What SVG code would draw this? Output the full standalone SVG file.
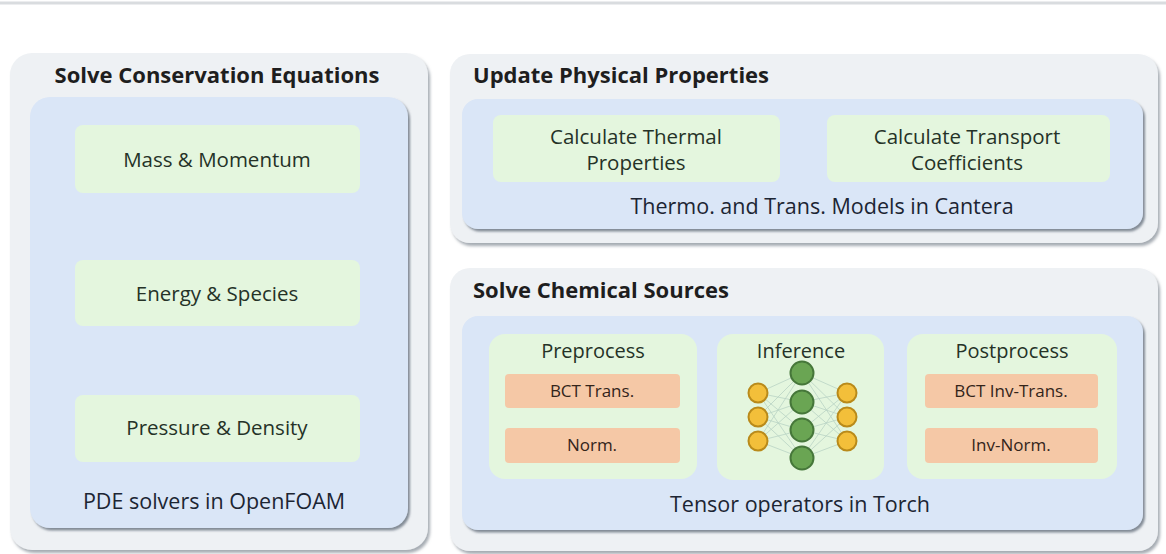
<svg xmlns="http://www.w3.org/2000/svg" width="1166" height="554" viewBox="0 0 1166 554">
<defs>
<filter id="sh" x="-5%" y="-5%" width="110%" height="115%">
<feDropShadow dx="2" dy="3" stdDeviation="1.5" flood-color="#6b7480" flood-opacity="0.6"/>
</filter>
<filter id="sh2" x="-5%" y="-5%" width="110%" height="115%">
<feDropShadow dx="2" dy="2.5" stdDeviation="1.2" flood-color="#55606e" flood-opacity="0.7"/>
</filter>
</defs>
<style>
.outer{fill:#eef1f4;filter:url(#sh)}
.inner{fill:#dae6f7;filter:url(#sh2)}
.green{fill:#e4f6de}
.orange{fill:#f5c8a6}
.title{font-family:"Open Sans",sans-serif;font-weight:bold;font-size:22px;fill:#1e1e1e}
.lbl{font-family:"Open Sans",sans-serif;font-size:20.5px;fill:#253227;text-anchor:middle}
.foot{font-family:"Open Sans",sans-serif;font-size:21.5px;fill:#1c2533;text-anchor:middle}
.sub{font-family:"Open Sans",sans-serif;font-size:20px;fill:#253227;text-anchor:middle}
.olbl{font-family:"Open Sans",sans-serif;font-size:17px;fill:#33241a;text-anchor:middle}
.yc{fill:#f3bf3a;stroke:#b98a1a;stroke-width:2}
.gc{fill:#6aa553;stroke:#46773a;stroke-width:2}
.edge{stroke:#b9d3c4;stroke-width:0.8;fill:none}
</style>
<rect x="0" y="0" width="1166" height="554" fill="#ffffff"/>
<line x1="0" y1="3" x2="1166" y2="3" stroke="#d9dcdf" stroke-width="3"/>

<g id="conservation">
<rect class="outer" x="10" y="53" width="418" height="497" rx="22"/>
<text class="title" x="217" y="83" text-anchor="middle">Solve Conservation Equations</text>
<rect class="inner" x="30" y="97" width="378" height="431" rx="20"/>
<g id="mass"><rect class="green" x="75" y="125" width="285" height="68" rx="8"/>
<text class="lbl" x="217" y="167">Mass &amp; Momentum</text></g>
<g id="energy"><rect class="green" x="75" y="260" width="285" height="66" rx="8"/>
<text class="lbl" x="217" y="301">Energy &amp; Species</text></g>
<g id="pressure"><rect class="green" x="75" y="395" width="285" height="67" rx="8"/>
<text class="lbl" x="217" y="435">Pressure &amp; Density</text></g>
<text class="foot" x="214" y="509">PDE solvers in OpenFOAM</text>
</g>

<g id="physical">
<rect class="outer" x="450" y="54" width="708" height="189" rx="20"/>
<text class="title" x="473" y="83">Update Physical Properties</text>
<rect class="inner" x="462" y="99" width="681" height="130" rx="16"/>
<g id="thermal"><rect class="green" x="493" y="115" width="287" height="67" rx="8"/>
<text class="lbl" x="636" y="144">Calculate Thermal</text>
<text class="lbl" x="636" y="170">Properties</text></g>
<g id="transport"><rect class="green" x="827" y="115" width="283" height="67" rx="8"/>
<text class="lbl" x="967" y="144">Calculate Transport</text>
<text class="lbl" x="967" y="170">Coefficients</text></g>
<text class="foot" x="822" y="214">Thermo. and Trans. Models in Cantera</text>
</g>

<g id="chemical">
<rect class="outer" x="450" y="268" width="708" height="283" rx="20"/>
<text class="title" x="473" y="298">Solve Chemical Sources</text>
<rect class="inner" x="462" y="316" width="681" height="214" rx="16"/>
<g id="preprocess"><rect class="green" x="489" y="334" width="208" height="145" rx="16"/>
<text class="sub" x="593" y="358">Preprocess</text>
<g id="bct"><rect class="orange" x="505" y="374" width="175" height="34" rx="4"/>
<text class="olbl" x="592" y="397">BCT Trans.</text></g>
<g id="norm"><rect class="orange" x="505" y="428" width="175" height="35" rx="4"/>
<text class="olbl" x="592" y="451">Norm.</text></g></g>
<g id="inference"><rect class="green" x="717" y="334" width="167" height="146" rx="16"/>
<text class="sub" x="801" y="358">Inference</text>
<g class="edges">
<path class="edge" d="M758,393 L802,373 M758,393 L802,402 M758,393 L802,430 M758,393 L802,458 M758,417 L802,373 M758,417 L802,402 M758,417 L802,430 M758,417 L802,458 M758,441 L802,373 M758,441 L802,402 M758,441 L802,430 M758,441 L802,458 M847,393 L802,373 M847,393 L802,402 M847,393 L802,430 M847,393 L802,458 M847,417 L802,373 M847,417 L802,402 M847,417 L802,430 M847,417 L802,458 M847,441 L802,373 M847,441 L802,402 M847,441 L802,430 M847,441 L802,458"/>
</g>
<circle class="yc" cx="758" cy="393" r="9.5"/>
<circle class="yc" cx="758" cy="417" r="9.5"/>
<circle class="yc" cx="758" cy="441" r="9.5"/>
<circle class="gc" cx="802" cy="373" r="11.5"/>
<circle class="gc" cx="802" cy="402" r="11.5"/>
<circle class="gc" cx="802" cy="430" r="11.5"/>
<circle class="gc" cx="802" cy="458" r="11.5"/>
<circle class="yc" cx="847" cy="393" r="9.5"/>
<circle class="yc" cx="847" cy="417" r="9.5"/>
<circle class="yc" cx="847" cy="441" r="9.5"/>
</g>
<g id="postprocess"><rect class="green" x="907" y="334" width="210" height="145" rx="16"/>
<text class="sub" x="1012" y="358">Postprocess</text>
<g id="bctinv"><rect class="orange" x="925" y="374" width="173" height="34" rx="4"/>
<text class="olbl" x="1011" y="397">BCT Inv-Trans.</text></g>
<g id="invnorm"><rect class="orange" x="925" y="428" width="173" height="35" rx="4"/>
<text class="olbl" x="1011" y="451">Inv-Norm.</text></g></g>
<text class="foot" x="800" y="512">Tensor operators in Torch</text>
</g>
<g id="connectors"></g>
</svg>
